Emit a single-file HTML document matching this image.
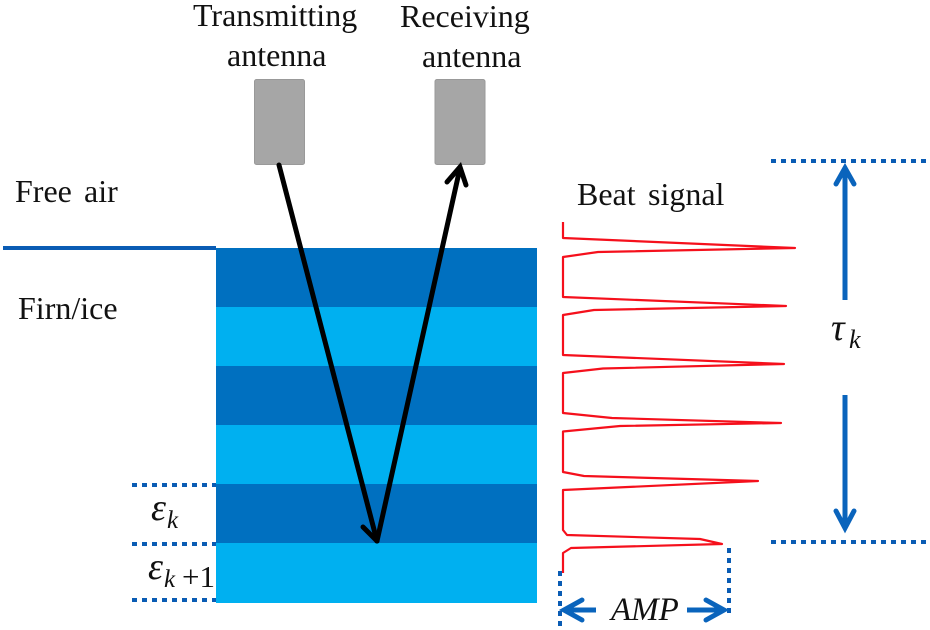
<!DOCTYPE html>
<html><head><meta charset="utf-8"><style>html,body{margin:0;padding:0;background:#fff;width:930px;height:630px;overflow:hidden}svg{display:block}text{font-family:"Liberation Serif",serif;fill:#111}.m{font-style:italic;font-family:"Liberation Serif","DejaVu Serif",serif}</style></head><body>
<svg width="930" height="630" viewBox="0 0 930 630" xmlns="http://www.w3.org/2000/svg">
<rect x="216" y="248" width="321" height="59" fill="#0070c0"/>
<rect x="216" y="307" width="321" height="59" fill="#00b0f0"/>
<rect x="216" y="366" width="321" height="59" fill="#0070c0"/>
<rect x="216" y="425" width="321" height="59" fill="#00b0f0"/>
<rect x="216" y="484" width="321" height="59" fill="#0070c0"/>
<rect x="216" y="543" width="321" height="60" fill="#00b0f0"/>
<line x1="3" y1="248" x2="216" y2="248" stroke="#0a5cb4" stroke-width="4"/>
<rect x="254.500" y="79.500" width="50" height="85" rx="2" fill="#a6a6a6" stroke="#999"/>
<rect x="435" y="79.500" width="50" height="85" rx="2" fill="#a6a6a6" stroke="#999"/>
<g stroke="#000" stroke-width="5" fill="none" stroke-linecap="round" stroke-linejoin="miter">
<path d="M279 165L377 541"/><path d="M363 527L377 541"/>
<path d="M377 541L460 168"/><path d="M447 182L460 167L466 185"/>
</g>
<path fill="none" stroke="#f5101c" stroke-width="2.200" stroke-linejoin="round" d="M563 222V238L795 248L598 252L563 257V297L786 306L594 310L563 315V355L784 364L603 368.500L563 373V413L612 418L781 423L620 426L563 431.500V472L584 476L758 481L563 490V530L567 535L700 539L722 544L571 548L563 553V573"/>
<g stroke="#0a5cb4" stroke-width="4" stroke-dasharray="5 5" fill="none">
<path d="M771 161H928"/><path d="M771 542H928"/>
<path d="M132 485H216"/><path d="M132 544H216"/><path d="M132 600H216"/>
<path d="M560 571V626"/><path d="M729 548V618"/>
</g>
<g stroke="#0a64bc" stroke-width="5" fill="none" stroke-linecap="round">
<path d="M845 300V170" stroke-linecap="butt"/><path d="M836 184L845 168L854 184"/>
<path d="M845 395V526" stroke-linecap="butt"/><path d="M836 511L845 528L854 511"/>
<path d="M596 610H565" stroke-linecap="butt"/><path d="M582 600L564 610L582 620"/>
<path d="M687 610H722" stroke-linecap="butt"/><path d="M706 600L724 610L706 620"/>
</g>
<text x="193" y="26" font-size="32">Transmitting</text>
<text x="227" y="66" font-size="32">antenna</text>
<text x="400" y="27" font-size="32">Receiving</text>
<text x="422" y="67" font-size="32">antenna</text>
<text x="15" y="202" font-size="32">Free</text><text x="84" y="202" font-size="32">air</text>
<text x="18" y="319" font-size="32">Firn/ice</text>
<text x="577" y="205" font-size="32">Beat</text><text x="648" y="205" font-size="32">signal</text>
<text class="m" x="151" y="520" font-size="38">ε</text><text class="m" x="167" y="528" font-size="25">k</text>
<text class="m" x="148" y="579" font-size="38">ε</text><text class="m" x="164" y="587" font-size="25">k</text><text x="182" y="587" font-size="31">+1</text>
<text class="m" x="611" y="620" font-size="33">AMP</text>
<text class="m" x="831" y="340" font-size="38">τ</text><text class="m" x="849" y="348" font-size="26">k</text>
</svg>
</body></html>
